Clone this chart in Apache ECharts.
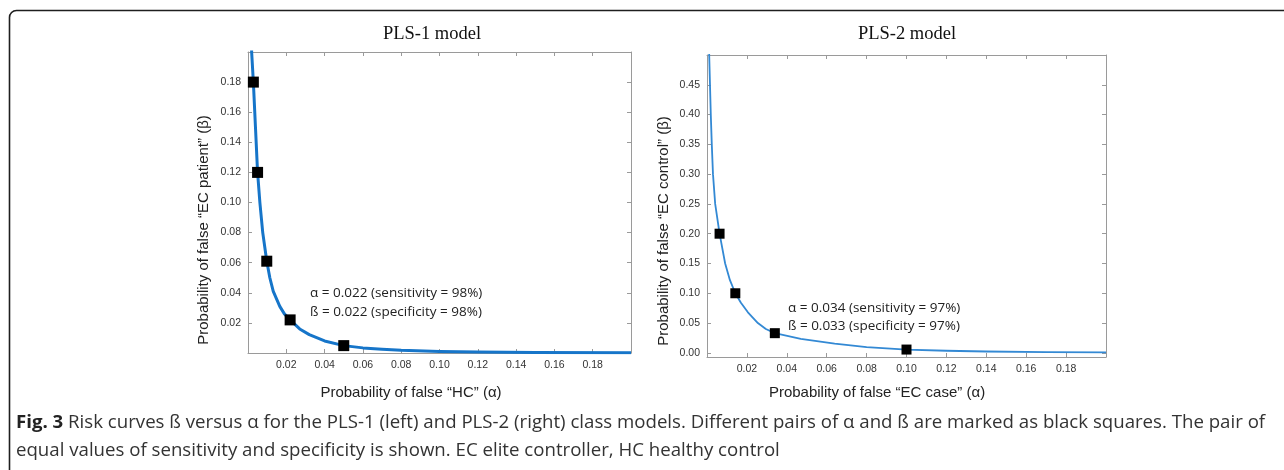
<!DOCTYPE html>
<html>
<head>
<meta charset="utf-8">
<style>
  html, body { margin: 0; padding: 0; background: #fff; }
  #chart { width: 1284px; height: 470px; }
</style>
<script src="https://cdn.jsdelivr.net/npm/echarts@6/dist/echarts.min.js"></script>
</head>
<body>
<div id="chart"></div>
<script>
// ---- data ----
const xTickValues = [0.02, 0.04, 0.06, 0.08, 0.10, 0.12, 0.14, 0.16, 0.18];
const y1TickValues = [0.02, 0.04, 0.06, 0.08, 0.10, 0.12, 0.14, 0.16, 0.18];
const y2TickValues = [0.00, 0.05, 0.10, 0.15, 0.20, 0.25, 0.30, 0.35, 0.40, 0.45];

// PLS-1 risk curve
const curve1Alpha = [0.0017, 0.0019, 0.0028, 0.0039, 0.005, 0.0062, 0.0077, 0.0098, 0.0114, 0.0132, 0.0166, 0.019, 0.022, 0.027, 0.032, 0.04, 0.05, 0.06, 0.07, 0.08, 0.10, 0.12, 0.15, 0.20];
const curve1Beta  = [0.215, 0.20, 0.18, 0.15, 0.12, 0.10, 0.08, 0.061, 0.05, 0.041, 0.031, 0.026, 0.022, 0.016, 0.0122, 0.008, 0.0049, 0.0034, 0.0025, 0.0018, 0.001, 0.0006, 0.0003, 0.0001];
const marks1Alpha = [0.0028, 0.005, 0.0098, 0.022, 0.05];
const marks1Beta  = [0.18, 0.12, 0.061, 0.022, 0.0049];

// PLS-2 risk curve
const curve2Alpha = [0.001, 0.0011, 0.0015, 0.0019, 0.0024, 0.003, 0.0041, 0.0063, 0.0091, 0.0115, 0.0142, 0.017, 0.0205, 0.0255, 0.0295, 0.034, 0.047, 0.064, 0.08, 0.10, 0.12, 0.14, 0.17, 0.20];
const curve2Beta  = [0.52, 0.50, 0.45, 0.40, 0.35, 0.30, 0.25, 0.20, 0.15, 0.122, 0.10, 0.084, 0.068, 0.05, 0.04, 0.033, 0.0235, 0.0156, 0.0095, 0.0055, 0.0035, 0.0022, 0.0012, 0.0008];
const marks2Alpha = [0.0063, 0.0142, 0.034, 0.10];
const marks2Beta  = [0.20, 0.10, 0.033, 0.0055];

const titles = ['PLS-1 model', 'PLS-2 model'];
const xTitles = ['Probability of false \u201CHC\u201D (\u03B1)', 'Probability of false \u201CEC case\u201D (\u03B1)'];
const yTitles = ['Probability of false \u201CEC patient\u201D (\u03B2)', 'Probability of false \u201CEC control\u201D (\u03B2)'];
const notes1 = ['\u03B1 = 0.022 (sensitivity = 98%)', '\u00DF = 0.022 (specificity = 98%)'];
const notes2 = ['\u03B1 = 0.034 (sensitivity = 97%)', '\u00DF = 0.033 (specificity = 97%)'];
const captionLine1 = 'Risk curves \u00DF versus \u03B1 for the PLS-1 (left) and PLS-2 (right) class models. Different pairs of \u03B1 and \u00DF are marked as black squares. The pair of';
const captionLine2 = 'equal values of sensitivity and specificity is shown. EC elite controller, HC healthy control';

const zip = (a, b) => a.map((v, i) => [v, b[i]]);

const frameColor = '#9a9a9a';
const labelStyle = { color: '#333', fontSize: 10.5, fontFamily: 'Liberation Sans, Arial, sans-serif' };

function xAxes(gridIndex, margin) {
  const base = {
    type: 'value', gridIndex, min: 0, max: 0.2, interval: 0.02,
    axisLine: { show: true, onZero: false, lineStyle: { color: frameColor, width: 1 } },
    axisTick: { show: true, inside: true, length: 4, lineStyle: { color: frameColor } },
    splitLine: { show: false }
  };
  return [
    Object.assign({}, base, {
      position: 'bottom',
      axisLabel: Object.assign({ show: true, margin,
        formatter: v => v.toFixed(2), customValues: xTickValues }, labelStyle),
      axisTick: Object.assign({}, base.axisTick, { customValues: xTickValues })
    }),
    Object.assign({}, base, {
      position: 'top',
      axisLabel: { show: false },
      axisTick: Object.assign({}, base.axisTick, { customValues: xTickValues })
    })
  ];
}

function yAxes(gridIndex, min, max, ticks) {
  const base = {
    type: 'value', gridIndex, min, max,
    axisLine: { show: true, onZero: false, lineStyle: { color: frameColor, width: 1 } },
    axisTick: { show: true, inside: true, length: 4, customValues: ticks, lineStyle: { color: frameColor } },
    splitLine: { show: false }
  };
  return [
    Object.assign({}, base, {
      position: 'left',
      axisLabel: Object.assign({ show: true, margin: 7, customValues: ticks,
        formatter: v => v.toFixed(2) }, labelStyle)
    }),
    Object.assign({}, base, { position: 'right', axisLabel: { show: false } })
  ];
}

const chart = echarts.init(document.getElementById('chart'), null, { renderer: 'canvas' });

const axisTitleFont = 'Liberation Sans, Arial, sans-serif';
const noteFont = '"Open Sans", sans-serif';

function txt(x, y, text, opts) {
  return {
    type: 'text', x, y, rotation: opts.rotation || 0, silent: true,
    style: {
      text, fill: opts.fill || '#222',
      fontSize: opts.fontSize, fontFamily: opts.fontFamily, fontWeight: opts.fontWeight || 'normal',
      textAlign: opts.align || 'left', textVerticalAlign: 'middle',
      align: opts.align || 'left', verticalAlign: 'middle',
      rich: opts.rich
    }
  };
}

const option = {
  animation: false,
  backgroundColor: '#fff',
  grid: [
    { left: 248, top: 52, width: 383, height: 301 },
    { left: 707, top: 55, width: 399, height: 302 }
  ],
  xAxis: [].concat(xAxes(0, 7), xAxes(1, 7)),
  yAxis: [].concat(yAxes(0, 0, 0.2, y1TickValues), yAxes(1, -0.007, 0.5, y2TickValues)),
  series: [
    {
      type: 'line', xAxisIndex: 0, yAxisIndex: 0, data: zip(curve1Alpha, curve1Beta),
      showSymbol: false, smooth: false, clip: true,
      lineStyle: { color: '#1675c9', width: 3, join: 'round' }
    },
    {
      type: 'scatter', xAxisIndex: 0, yAxisIndex: 0, data: zip(marks1Alpha, marks1Beta),
      symbol: 'rect', symbolSize: 11, z: 5,
      itemStyle: { color: '#000', opacity: 1 }
    },
    {
      type: 'line', xAxisIndex: 2, yAxisIndex: 2, data: zip(curve2Alpha, curve2Beta),
      showSymbol: false, smooth: false, clip: true,
      lineStyle: { color: '#3389d4', width: 1.8, join: 'round' }
    },
    {
      type: 'scatter', xAxisIndex: 2, yAxisIndex: 2, data: zip(marks2Alpha, marks2Beta),
      symbol: 'rect', symbolSize: 10, z: 5,
      itemStyle: { color: '#000', opacity: 1 }
    }
  ],
  graphic: [
    {
      type: 'rect', silent: true,
      shape: { x: 9.5, y: 10.5, width: 1400, height: 600, r: 7 },
      style: { fill: 'none', stroke: '#1e1e1e', lineWidth: 1.6 }
    },
    txt(432, 34, titles[0], { fontSize: 18.5, fontFamily: 'Liberation Serif, Times New Roman, serif', fill: '#111', align: 'center' }),
    txt(907, 34, titles[1], { fontSize: 18.5, fontFamily: 'Liberation Serif, Times New Roman, serif', fill: '#111', align: 'center' }),
    txt(411, 393, xTitles[0], { fontSize: 15, fontFamily: axisTitleFont, align: 'center' }),
    txt(877, 393, xTitles[1], { fontSize: 15, fontFamily: axisTitleFont, align: 'center' }),
    txt(204, 230, yTitles[0], { fontSize: 15, fontFamily: axisTitleFont, align: 'center', rotation: Math.PI / 2 }),
    txt(664, 231, yTitles[1], { fontSize: 15, fontFamily: axisTitleFont, align: 'center', rotation: Math.PI / 2 }),
    txt(310, 293, notes1[0], { fontSize: 13.5, fontFamily: noteFont }),
    txt(310, 312, notes1[1], { fontSize: 13.5, fontFamily: noteFont }),
    txt(788, 308, notes2[0], { fontSize: 13.5, fontFamily: noteFont }),
    txt(788, 326, notes2[1], { fontSize: 13.5, fontFamily: noteFont }),
    txt(16, 423, '{b|Fig. 3} ' + captionLine1, {
      fontSize: 18.65, fontFamily: noteFont, fill: '#333',
      rich: { b: { fontWeight: 'bold', fontSize: 18.65, fontFamily: noteFont, fill: '#222', color: '#222' } }
    }),
    txt(16, 451, captionLine2, { fontSize: 18.65, fontFamily: noteFont, fill: '#333' })
  ]
};

chart.setOption(option);
</script>
</body>
</html>
